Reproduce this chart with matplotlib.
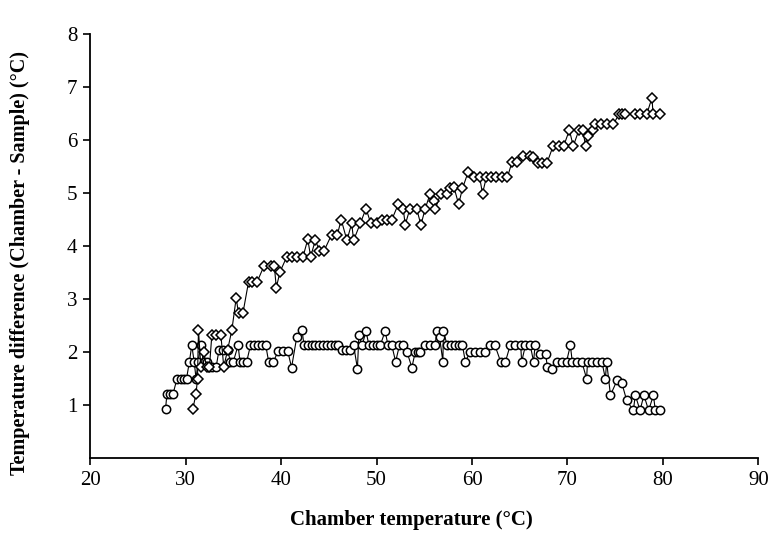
import matplotlib.pyplot as plt

plt.rcParams['font.family'] = ['Liberation Serif', 'DejaVu Serif']

# upper series (diamonds): chamber temp vs temperature difference
upper_x = [30.75, 31.1, 31.25, 31.35, 31.6, 31.9, 32.2, 32.5, 32.75, 33.2, 33.7, 34.0, 34.4,
           34.85, 35.3, 35.55, 36.0, 36.6, 37.0, 37.5, 38.2, 38.9, 39.3, 39.5, 39.9,
           40.6, 41.1, 41.65, 42.3, 42.8, 43.1, 43.6, 44.0, 44.5, 45.3, 45.9, 46.3,
           46.9, 47.4, 47.6, 48.3, 48.9, 49.4, 50.0, 50.6, 51.1, 51.6, 52.3, 52.8,
           53.0, 53.5, 54.2, 54.65, 55.1, 55.6, 56.0, 56.15, 56.7, 57.4, 57.7, 58.1,
           58.6, 59.0, 59.6, 60.2, 60.8, 61.1, 61.5, 62.0, 62.5, 63.1, 63.7, 64.2,
           64.7, 65.3, 66.1, 66.4, 66.9, 67.3, 67.85, 68.5, 69.1, 69.6, 70.2, 70.6,
           71.2, 71.6, 71.9, 72.2, 72.7, 72.9, 73.55, 74.1, 74.8, 75.4, 75.7, 76.05,
           77.1, 77.6, 78.3, 78.85, 78.96, 79.65]
upper_y = [0.92, 1.22, 1.5, 2.42, 1.72, 2.0, 1.72, 1.72, 2.32, 2.32, 2.32, 1.72, 2.04,
           2.42, 3.02, 2.73, 2.73, 3.33, 3.33, 3.33, 3.62, 3.62, 3.62, 3.22, 3.52,
           3.80, 3.80, 3.80, 3.80, 4.13, 3.80, 4.12, 3.91, 3.91, 4.22, 4.22, 4.50,
           4.11, 4.43, 4.11, 4.43, 4.71, 4.43, 4.43, 4.50, 4.50, 4.50, 4.80, 4.71,
           4.40, 4.71, 4.71, 4.40, 4.71, 4.98, 4.85, 4.70, 4.98, 4.98, 5.09, 5.12,
           4.79, 5.09, 5.40, 5.30, 5.30, 4.99, 5.30, 5.30, 5.30, 5.30, 5.30, 5.59,
           5.59, 5.70, 5.70, 5.68, 5.57, 5.57, 5.57, 5.89, 5.89, 5.89, 6.19, 5.89,
           6.19, 6.19, 5.89, 6.08, 6.19, 6.30, 6.30, 6.30, 6.30, 6.49, 6.49, 6.49,
           6.49, 6.49, 6.49, 6.80, 6.49, 6.49]

# lower series (circles)
lower_x = [27.9, 28.05, 28.4, 28.7, 29.1, 29.5, 29.8, 30.1, 30.4, 30.65, 30.9, 31.1, 31.3,
           31.6, 31.9, 32.2, 32.5, 32.8, 33.2, 33.5, 33.9, 34.4, 34.7, 35.0, 35.5,
           35.7, 36.0, 36.4, 36.8, 37.2, 37.6, 38.0, 38.4, 38.7, 39.2, 39.7, 40.2,
           40.7, 41.1, 41.65, 42.2, 42.4, 42.8, 43.2, 43.6, 44.0, 44.4, 44.8, 45.2,
           45.6, 46.0, 46.4, 46.8, 47.2, 47.6, 48.0, 48.15, 48.5, 48.9, 49.2, 49.6,
           50.0, 50.4, 50.9, 51.2, 51.6, 52.0, 52.4, 52.8, 53.2, 53.7, 54.05, 54.3,
           54.6, 55.1, 55.6, 56.15, 56.3, 56.6, 56.95, 57.0, 57.4, 57.8, 58.2, 58.6,
           59.0, 59.3, 59.8, 60.3, 60.8, 61.4, 61.9, 62.4, 63.0, 63.5, 64.0, 64.5,
           65.1, 65.2, 65.6, 66.1, 66.45, 66.6, 67.15, 67.7, 67.9, 68.4, 68.9, 69.4,
           69.9, 70.3, 70.5, 71.0, 71.5, 72.0, 72.1, 72.6, 73.1, 73.6, 73.97, 74.1,
           74.5, 75.2, 75.7, 76.2, 76.9, 77.1, 77.6, 78.0, 78.5, 79.0, 79.2, 79.7]
lower_y = [0.92, 1.22, 1.22, 1.22, 1.5, 1.5, 1.5, 1.5, 1.82, 2.13, 1.82, 1.5, 1.82,
           2.13, 1.82, 1.82, 1.72, 1.72, 1.72, 2.04, 2.04, 2.04, 1.82, 1.82, 2.13,
           1.82, 1.82, 1.82, 2.13, 2.13, 2.13, 2.13, 2.13, 1.82, 1.82, 2.02, 2.02,
           2.02, 1.71, 2.29, 2.42, 2.13, 2.13, 2.13, 2.13, 2.13, 2.13, 2.13, 2.13,
           2.13, 2.13, 2.04, 2.04, 2.04, 2.13, 1.69, 2.32, 2.13, 2.40, 2.13, 2.13,
           2.13, 2.13, 2.40, 2.13, 2.13, 1.82, 2.13, 2.13, 2.0, 1.71, 2.0, 2.0,
           2.0, 2.13, 2.13, 2.13, 2.40, 2.29, 1.82, 2.40, 2.13, 2.13, 2.13, 2.13,
           2.13, 1.82, 2.0, 2.0, 2.0, 2.0, 2.13, 2.13, 1.82, 1.82, 2.13, 2.13,
           2.13, 1.82, 2.13, 2.13, 1.82, 2.13, 1.97, 1.97, 1.72, 1.69, 1.82, 1.82,
           1.82, 2.13, 1.82, 1.82, 1.82, 1.5, 1.82, 1.82, 1.82, 1.82, 1.5, 1.82,
           1.19, 1.47, 1.41, 1.09, 0.9, 1.19, 0.9, 1.19, 0.9, 1.19, 0.9, 0.9]

x_ticks = [20, 30, 40, 50, 60, 70, 80, 90]
y_ticks = [1, 2, 3, 4, 5, 6, 7, 8]

fig = plt.figure(figsize=(7.7, 5.34), dpi=100)
ax = fig.add_axes([0.117, 0.142, 0.868, 0.794])

ax.plot(lower_x, lower_y, color='black', lw=0.8, marker='o', ms=6,
        mfc='white', mec='black', mew=1.1)
ax.plot(upper_x, upper_y, color='black', lw=0.8, marker='D', ms=5.2,
        mfc='white', mec='black', mew=1.1)

ax.set_xlim(20, 90)
ax.set_ylim(0, 8)
ax.set_xticks(x_ticks)
ax.set_yticks(y_ticks)
ax.spines['top'].set_visible(False)
ax.spines['right'].set_visible(False)
ax.spines['left'].set_linewidth(1.3)
ax.spines['bottom'].set_linewidth(1.3)
ax.tick_params(labelsize=15, width=1.2, length=5, pad=4)

ax.set_xlabel('Chamber temperature (°C)', fontsize=15, fontweight='bold')
ax.xaxis.set_label_coords(0.48, -0.122)
ax.set_ylabel('Temperature difference (Chamber - Sample) (°C)', fontsize=14.5,
              fontweight='bold')
ax.yaxis.set_label_coords(-0.09, 0.46)

fig.savefig('out.png', dpi=100)
